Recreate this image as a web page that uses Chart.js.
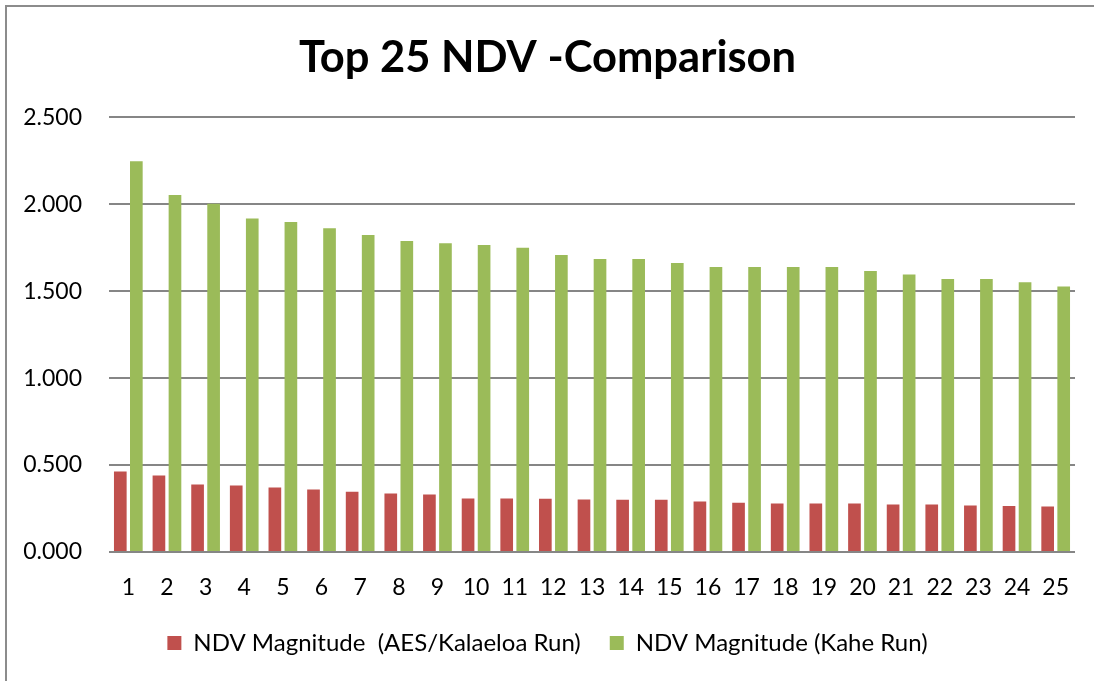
<!DOCTYPE html>
<html>
<head>
<meta charset="utf-8">
<title>Top 25 NDV -Comparison</title>
<script src="https://cdn.jsdelivr.net/npm/chart.js@4.4.1/dist/chart.umd.min.js"></script>
<style>
  html, body { margin: 0; padding: 0; background: #fff; overflow: hidden; }
  #marco {
    position: absolute; left: 5px; top: 5px; right: 0; bottom: 0;
    border-left: 2px solid #8c8c8c; border-top: 2px solid #8c8c8c;
  }
  #grafica { position: absolute; left: 0; top: 0; }
</style>
</head>
<body>
<div id="marco"></div>
<canvas id="grafica" width="1094" height="681"></canvas>
<script>
// Datos
const categorias = ['1','2','3','4','5','6','7','8','9','10','11','12','13','14','15','16','17','18','19','20','21','22','23','24','25'];
const ndvAes = [0.463, 0.440, 0.388, 0.383, 0.371, 0.360, 0.346, 0.337, 0.331, 0.308, 0.308, 0.306, 0.302,
                0.300, 0.300, 0.291, 0.283, 0.279, 0.279, 0.279, 0.273, 0.273, 0.268, 0.264, 0.262];
const ndvKahe = [2.247, 2.053, 2.003, 1.917, 1.898, 1.861, 1.823, 1.788, 1.775, 1.765, 1.750, 1.708, 1.685,
                 1.685, 1.662, 1.639, 1.639, 1.639, 1.639, 1.616, 1.595, 1.570, 1.570, 1.551, 1.526];
const titulo = 'Top 25 NDV -Comparison';
const etiquetaAes = 'NDV Magnitude  (AES/Kalaeloa Run)';
const etiquetaKahe = 'NDV Magnitude (Kahe Run)';

const fuente = 'Lato, "Open Sans", sans-serif';
const gris = '#868686';

const ctx = document.getElementById('grafica').getContext('2d');
const grafica = new Chart(ctx, {
  type: 'bar',
  data: {
    labels: categorias,
    datasets: [
      {
        label: etiquetaAes,
        data: ndvAes,
        backgroundColor: '#C0504D',
        categoryPercentage: 0.83,
        barPercentage: 0.79
      },
      {
        label: etiquetaKahe,
        data: ndvKahe,
        backgroundColor: '#9BBB59',
        categoryPercentage: 0.83,
        barPercentage: 0.79
      }
    ]
  },
  options: {
    responsive: false,
    animation: false,
    layout: {
      padding: { top: 10, right: 19, bottom: 16, left: 20 }
    },
    scales: {
      x: {
        grid: { display: false, drawTicks: false },
        border: { display: false },
        ticks: {
          color: '#000',
          padding: 22,
          maxRotation: 0,
          font: { family: fuente, size: 23 }
        },
        afterFit: (escala) => { escala.height = 50; }
      },
      y: {
        min: 0,
        max: 2.5,
        grid: { color: gris, lineWidth: 2, drawTicks: false },
        border: { display: false },
        ticks: {
          stepSize: 0.5,
          color: '#000',
          padding: 27,
          font: { family: fuente, size: 23 },
          callback: (v) => v.toFixed(3)
        },
        afterFit: (escala) => { escala.width = 89; }
      }
    },
    plugins: {
      title: {
        display: true,
        text: titulo,
        color: '#000',
        font: { family: fuente, size: 43.5, weight: 'bold' },
        padding: { top: 22, bottom: 33 }
      },
      legend: {
        position: 'bottom',
        labels: {
          color: '#000',
          boxWidth: 14,
          boxHeight: 14,
          padding: 29,
          font: { family: fuente, size: 24 }
        }
      },
      tooltip: { enabled: false }
    }
  }
});
</script>
</body>
</html>
